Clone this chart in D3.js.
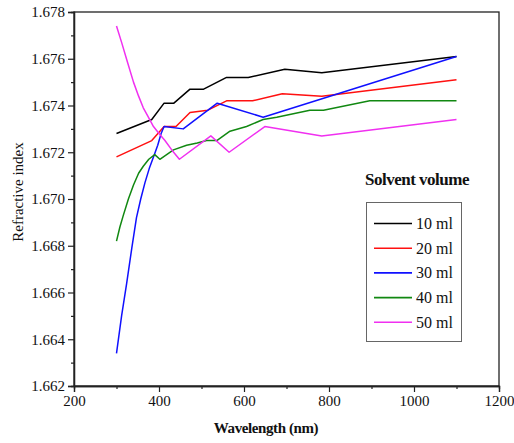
<!DOCTYPE html>
<html><head><meta charset="utf-8">
<script src="https://cdn.jsdelivr.net/npm/d3@7"></script>
<style>body{margin:0;background:#fff}svg{display:block}</style>
</head><body><svg id="c" width="514" height="443"></svg>
<script>
const seriesNames = ["10 ml","20 ml","30 ml","40 ml","50 ml"];
const seriesColors = ["#000000","#ff1010","#1010ff","#118811","#f030f0"];
const wl10 = [300,383,412,435,473,505,559,610,696,783,1100];
const ri10 = [1.6728,1.6734,1.6741,1.6741,1.6747,1.6747,1.6752,1.6752,1.67555,1.6754,1.6761];
const wl20 = [300,383,412,440,473,515,559,620,690,783,1100];
const ri20 = [1.6718,1.6725,1.6731,1.6731,1.6737,1.6738,1.6742,1.6742,1.6745,1.6744,1.6751];
const wl30 = [300,312,324,336,347,357,367,377,387,397,405,412,457,537,645,1100];
const ri30 = [1.6634,1.6650,1.6664,1.6679,1.6692,1.6700,1.6707,1.6713,1.6718,1.6723,1.6728,1.6731,1.6730,1.6741,1.6735,1.6761];
const wl40 = [300,308,316,328,340,352,363,376,390,402,434,465,490,512,536,567,606,645,677,755,787,896,1100];
const ri40 = [1.6682,1.6688,1.6693,1.6700,1.6706,1.6711,1.6714,1.6717,1.6719,1.6717,1.6721,1.6723,1.6724,1.6725,1.6725,1.6729,1.6731,1.6734,1.6735,1.6738,1.6738,1.6742,1.6742];
const wl50 = [300,312,325,340,352,363,375,387,400,414,430,448,522,565,649,783,1100];
const ri50 = [1.6774,1.6767,1.6759,1.6750,1.6744,1.6739,1.6735,1.6731,1.6728,1.6725,1.6721,1.6717,1.6727,1.6720,1.6731,1.6727,1.6734];
const xTicks = [200,400,600,800,1000,1200];
const yTicks = [1.662,1.664,1.666,1.668,1.670,1.672,1.674,1.676,1.678];
const xTitle = "Wavelength (nm)";
const yTitle = "Refractive index";
const legendTitle = "Solvent volume";

const FONT='"Liberation Serif"';
const wls=[wl10,wl20,wl30,wl40,wl50], ris=[ri10,ri20,ri30,ri40,ri50];
const L=74,R=499,T=12,B=386;
const svg=d3.select("#c");
const x=d3.scaleLinear().domain([200,1200]).range([L,R]);
const y=d3.scaleLinear().domain([1.662,1.678]).range([B,T]);

svg.append("rect").attr("x",L).attr("y",T).attr("width",R-L).attr("height",B-T)
  .attr("fill","none").attr("stroke","#222").attr("stroke-width",1.3);

const xMinor=d3.range(300,1200,200);
const yMinor=d3.range(1.663,1.678,0.002);
const gx=svg.append("g").attr("transform",`translate(0,${B})`)
  .call(d3.axisBottom(x).tickValues(xTicks).tickFormat(d3.format("d")).tickSize(6).tickPadding(3));
const gxm=svg.append("g").attr("transform",`translate(0,${B})`)
  .call(d3.axisBottom(x).tickValues(xMinor).tickFormat("").tickSize(3));
const gy=svg.append("g").attr("transform",`translate(${L},0)`)
  .call(d3.axisLeft(y).tickValues(yTicks).tickFormat(d3.format(".3f")).tickSize(6).tickPadding(3));
const gym=svg.append("g").attr("transform",`translate(${L},0)`)
  .call(d3.axisLeft(y).tickValues(yMinor).tickFormat("").tickSize(3));
[gx,gxm,gy,gym].forEach(g=>{
  g.attr("font-family",FONT).attr("font-size",15);
  g.select(".domain").attr("stroke","#222").attr("stroke-width",1.3);
  g.selectAll("line").attr("stroke","#222").attr("stroke-width",1.2);
  g.selectAll("text").style("font-family",FONT).attr("fill","#111");});

svg.append("text").attr("x",266).attr("y",433).attr("text-anchor","middle")
  .style("font-family",FONT).attr("font-size",15).attr("font-weight","bold")
  .attr("letter-spacing",-0.4).attr("fill","#111").text(xTitle);
svg.append("text").attr("transform","translate(23,192) rotate(-90)").attr("text-anchor","middle")
  .style("font-family",FONT).attr("font-size",15).attr("fill","#111").text(yTitle);

const line=d3.line().x(d=>x(d[0])).y(d=>y(d[1]));
seriesNames.forEach((n,i)=>{
  const pts=wls[i].map((w,j)=>[w,ris[i][j]]);
  svg.append("path").datum(pts).attr("d",line).attr("fill","none")
    .attr("stroke",seriesColors[i]).attr("stroke-width",1.5).attr("stroke-linejoin","round");
});

svg.append("text").attr("x",417).attr("y",185).attr("text-anchor","middle")
  .style("font-family",FONT).attr("font-size",17).attr("font-weight","bold")
  .attr("letter-spacing",-0.5).attr("fill","#111").text(legendTitle);
svg.append("rect").attr("x",366.5).attr("y",202.5).attr("width",95).attr("height",139)
  .attr("fill","#fff").attr("stroke","#666").attr("stroke-width",1);
seriesNames.forEach((n,i)=>{
  const cy=223.5+24.7*i;
  svg.append("line").attr("x1",374).attr("x2",412).attr("y1",cy).attr("y2",cy)
    .attr("stroke",seriesColors[i]).attr("stroke-width",1.6);
  svg.append("text").attr("x",416).attr("y",cy+5.5)
    .style("font-family",FONT).attr("font-size",16).attr("fill","#111").text(n);
});
</script></body></html>
